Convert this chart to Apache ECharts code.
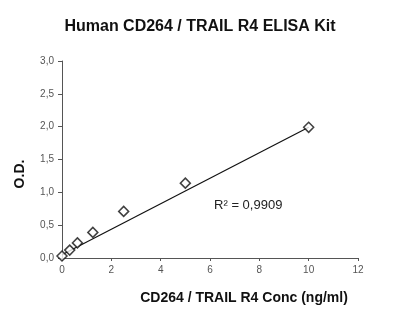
<!DOCTYPE html>
<html><head><meta charset="utf-8">
<script src="https://cdn.jsdelivr.net/npm/echarts@6/dist/echarts.min.js"></script>
<style>html,body{margin:0;padding:0;background:#fff}#c{width:400px;height:328px}</style>
</head><body><div id="c"></div>
<script>
var concentrations = [0, 0.3125, 0.625, 1.25, 2.5, 5, 10];
var odValues = [0.03, 0.12, 0.23, 0.39, 0.71, 1.14, 1.99];
var trendX = [0, 10];
var trendY = [0.05, 1.99];
var yTicks = [0, 0.5, 1, 1.5, 2, 2.5, 3];
var xTicks = [0, 2, 4, 6, 8, 10, 12];
var rSquaredLabel = 'R² = 0,9909';

var chart = echarts.init(document.getElementById('c'), null, {renderer: 'canvas'});
var FONT = '"Liberation Sans", Arial, sans-serif';
chart.setOption({
  animation: false,
  title: {
    text: 'Human CD264 / TRAIL R4 ELISA Kit',
    left: 'center', top: 14,
    textStyle: {fontFamily: FONT, fontWeight: 'bold', fontSize: 16, color: '#111'}
  },
  grid: {left: 62, right: 42, top: 61, bottom: 70},
  graphic: [{
    type: 'text', x: 20, y: 174, rotation: Math.PI / 2,
    style: {text: 'O.D.', fontFamily: FONT, fontWeight: 'bold', fontSize: 14, fill: '#111',
      align: 'center', verticalAlign: 'middle'}
  }],
  xAxis: {
    type: 'value', min: xTicks[0], max: xTicks[xTicks.length-1], interval: 2,
    name: 'CD264 / TRAIL R4 Conc (ng/ml)', nameLocation: 'middle', nameGap: 33,
    nameTextStyle: {fontFamily: FONT, fontWeight: 'bold', fontSize: 14, color: '#111', padding: [0,0,0,68]},
    axisLine: {lineStyle: {color: '#555', width: 1}},
    axisTick: {show: true, length: 3, inside: false, lineStyle: {color: '#555'}},
    axisLabel: {fontFamily: FONT, fontSize: 10, color: '#555', margin: 7},
    splitLine: {show: false}
  },
  yAxis: {
    type: 'value', min: yTicks[0], max: yTicks[yTicks.length-1], interval: 0.5,
    axisLine: {show: true, lineStyle: {color: '#555', width: 1}},
    axisTick: {show: true, length: 4, lineStyle: {color: '#555'}},
    axisLabel: {fontFamily: FONT, fontSize: 10, color: '#555', margin: 8,
      formatter: function(v){ return v.toFixed(1).replace('.', ','); }},
    splitLine: {show: false}
  },
  series: [
    {
      type: 'line', data: trendX.map(function(x,i){return [x, trendY[i]];}),
      symbol: 'none', lineStyle: {color: '#111', width: 1.2}, z: 1,
      markPoint: {
        symbol: 'rect', symbolSize: 0,
        label: {show: true, formatter: rSquaredLabel, fontFamily: FONT, fontSize: 13, color: '#222'},
        data: [{coord: [7.55, 0.8]}]
      }
    },
    {
      type: 'scatter', data: concentrations.map(function(x,i){return [x, odValues[i]];}),
      symbol: 'diamond', symbolSize: [10, 10],
      itemStyle: {color: '#fff', borderColor: '#111', borderWidth: 1.5}, z: 3
    }
  ]
});
</script></body></html>
